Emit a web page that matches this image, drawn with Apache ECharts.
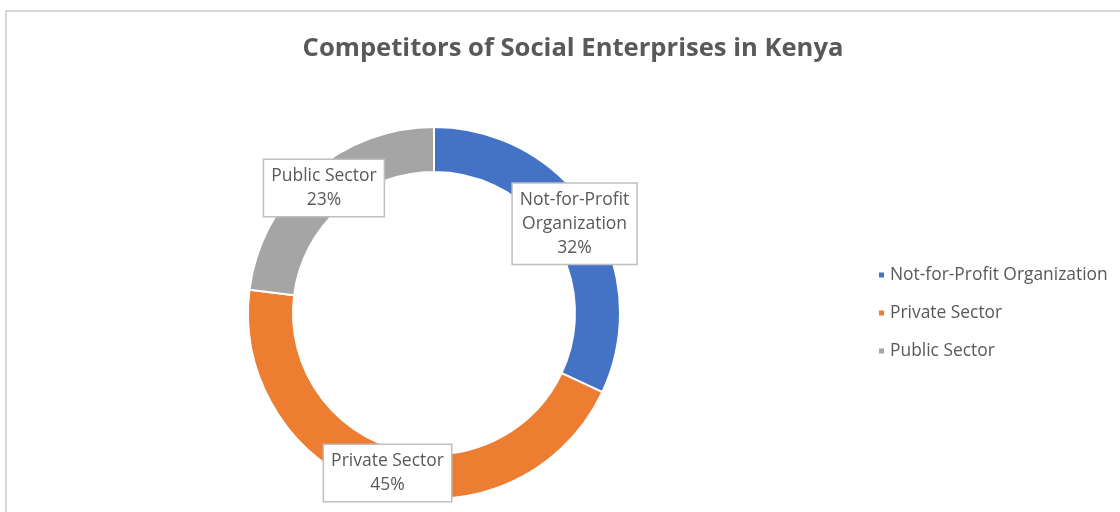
<!DOCTYPE html>
<html>
<head>
<meta charset="utf-8">
<script src="https://cdn.jsdelivr.net/npm/echarts@6/dist/echarts.min.js"></script>
<style>
  html, body { margin: 0; padding: 0; background: #fff; }
  #chart { width: 1120px; height: 512px; }
</style>
</head>
<body>
<div id="chart"></div>
<script>
// Competitor groups and their share (%)
const categories = ['Not-for-Profit Organization', 'Private Sector', 'Public Sector'];
const shares = [32, 45, 23];
// Text shown inside the label boxes on the ring
const ringLabels = ['Not-for-Profit\nOrganization', 'Private Sector', 'Public Sector'];
const colors = ['#4472C4', '#ED7D31', '#A5A5A5'];

const FONT = '"Open Sans", sans-serif';
const chart = echarts.init(document.getElementById('chart'));

chart.setOption({
  animation: false,
  color: colors,
  title: {
    text: 'Competitors of Social Enterprises in Kenya',
    left: 568,
    textAlign: 'center',
    top: 31,
    textStyle: { fontFamily: FONT, fontSize: 25.6, fontWeight: 'bold', color: '#595959' }
  },
  legend: {
    orient: 'vertical',
    left: 872,
    top: 259,
    itemWidth: 7,
    itemHeight: 7,
    itemGap: 16,
    icon: 'rect',
    textStyle: { fontFamily: FONT, fontSize: 17.4, lineHeight: 22, color: '#595959', padding: [0, 0, 0, 0] },
    data: categories
  },
  graphic: [{
    type: 'rect',
    silent: true,
    shape: { x: 6, y: 11, width: 1300, height: 700 },
    style: { fill: 'none', stroke: '#d9d9d9', lineWidth: 2 }
  }],
  series: [{
    type: 'pie',
    center: [434, 313],
    radius: [141, 186],
    startAngle: 90,
    clockwise: true,
    avoidLabelOverlap: false,
    itemStyle: { borderColor: '#fff', borderWidth: 2 },
    label: {
      show: true,
      position: 'inside',
      formatter: p => ringLabels[p.dataIndex] + '\n' + p.value + '%',
      fontFamily: FONT,
      fontSize: 17.5,
      lineHeight: 24,
      color: '#595959',
      align: 'center',
      backgroundColor: '#fff',
      borderColor: '#bfbfbf',
      borderWidth: 1.5,
      padding: [4, 7, 4, 7]
    },
    labelLine: { show: false },
    emphasis: { disabled: true },
    data: categories.map((name, i) => ({ name, value: shares[i] }))
  }]
});
</script>
</body>
</html>
